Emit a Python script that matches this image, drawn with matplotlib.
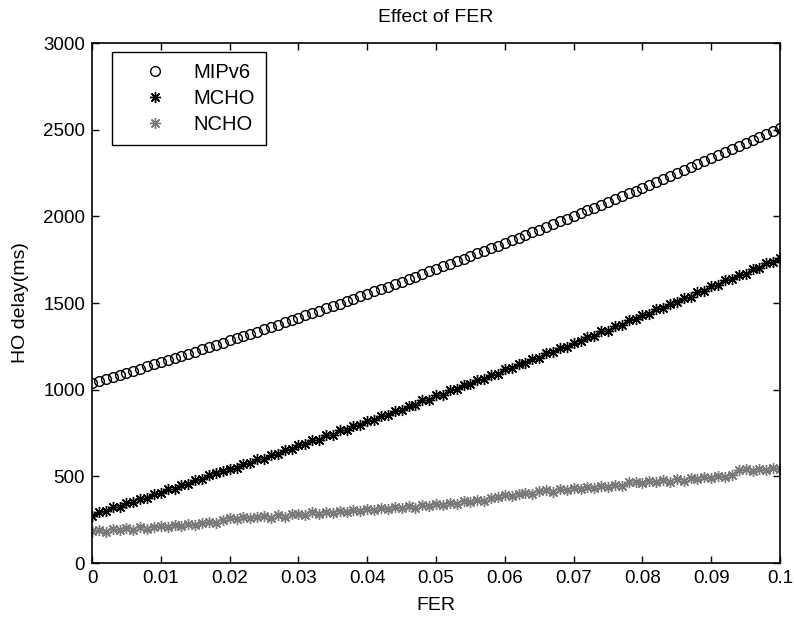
import numpy as np
import matplotlib.pyplot as plt

plt.rcParams['font.family'] = ['Liberation Sans', 'DejaVu Sans']

# datos (FER de 0 a 0.1, paso 0.001)
fer = np.arange(101) / 1000.0

mipv6 = [1040, 1052, 1063, 1075, 1087, 1099, 1110, 1122, 1134, 1147,
         1159, 1171, 1183, 1196, 1208, 1220, 1233, 1245, 1258, 1271,
         1284, 1296, 1309, 1322, 1335, 1348, 1362, 1375, 1388, 1401,
         1415, 1428, 1442, 1456, 1469, 1483, 1497, 1511, 1524, 1538,
         1552, 1567, 1581, 1595, 1609, 1624, 1638, 1652, 1667, 1682,
         1696, 1711, 1726, 1741, 1756, 1771, 1786, 1801, 1816, 1831,
         1846, 1862, 1877, 1893, 1908, 1924, 1940, 1955, 1971, 1987,
         2003, 2019, 2035, 2051, 2067, 2083, 2100, 2116, 2133, 2149,
         2166, 2182, 2199, 2216, 2233, 2249, 2266, 2283, 2300, 2318,
         2335, 2352, 2369, 2387, 2404, 2422, 2439, 2457, 2474, 2492,
         2510]

mcho = [270, 295, 300, 322, 325, 348, 350, 372, 376, 398,
        402, 425, 428, 450, 455, 478, 482, 505, 520, 532,
        545, 548, 572, 575, 598, 602, 625, 630, 652, 657,
        680, 685, 708, 712, 736, 741, 765, 769, 793, 797,
        822, 826, 850, 855, 879, 884, 908, 913, 938, 942,
        967, 972, 997, 1002, 1027, 1032, 1057, 1062, 1087, 1092,
        1118, 1123, 1148, 1153, 1179, 1184, 1210, 1215, 1241, 1246,
        1272, 1278, 1304, 1309, 1336, 1341, 1367, 1373, 1400, 1405,
        1432, 1437, 1465, 1470, 1497, 1503, 1530, 1536, 1563, 1569,
        1596, 1602, 1630, 1636, 1663, 1669, 1697, 1703, 1731, 1737,
        1762]

ncho = [185, 192, 180, 195, 188, 200, 193, 205, 198, 210,
        215, 208, 222, 212, 225, 218, 230, 235, 228, 250,
        262, 255, 268, 258, 265, 272, 262, 275, 268, 280,
        285, 278, 292, 283, 296, 290, 300, 293, 305, 298,
        310, 303, 318, 310, 322, 315, 328, 320, 333, 327,
        340, 335, 348, 342, 356, 350, 365, 360, 374, 382,
        390, 385, 398, 405, 400, 415, 420, 412, 428, 422,
        435, 428, 440, 433, 445, 438, 450, 443, 465, 470,
        462, 472, 465, 478, 470, 482, 475, 488, 482, 495,
        490, 500, 495, 508, 535, 540, 532, 545, 538, 548,
        545]

x_ticks = [0, 0.01, 0.02, 0.03, 0.04, 0.05, 0.06, 0.07, 0.08, 0.09, 0.1]
x_labels = ['0', '0.01', '0.02', '0.03', '0.04', '0.05', '0.06', '0.07', '0.08', '0.09', '0.1']
y_ticks = [0, 500, 1000, 1500, 2000, 2500, 3000]

fig = plt.figure(figsize=(7.94, 6.17), dpi=100)
ax = fig.add_axes([0.1159, 0.0875, 0.8665, 0.8428])

star = (8, 2, 0)  # asterisco tipo matlab
ax.plot(fer, mipv6, 'o', mfc='none', mec='black', ms=7, mew=1.0, label='MIPv6')
ax.plot(fer, mcho, ls='none', marker=star, color='black', ms=8, mew=1.0, label='MCHO')
ax.plot(fer, ncho, ls='none', marker=star, color='#7a7a7a', ms=8, mew=1.0, label='NCHO')

ax.set_xlim(0, 0.1)
ax.set_ylim(0, 3000)
ax.set_xticks(x_ticks)
ax.set_xticklabels(x_labels)
ax.set_yticks(y_ticks)
ax.tick_params(direction='in', top=True, right=True, labelsize=13.5, length=5, width=1, pad=5)
for s in ax.spines.values():
    s.set_linewidth(1.2)

ax.set_xlabel('FER', fontsize=14, labelpad=7)
ax.set_ylabel('HO delay(ms)', fontsize=14, labelpad=10)
ax.set_title('Effect of FER', fontsize=14, pad=15)

leg = ax.legend(loc='upper left', bbox_to_anchor=(0.029, 0.983), fontsize=14.5,
                fancybox=False, edgecolor='black', framealpha=1,
                handlelength=3.2, handletextpad=0.3, borderpad=0.55, labelspacing=0.35,
                borderaxespad=0)
leg.get_frame().set_linewidth(1.0)

fig.savefig('out.png', dpi=100)
